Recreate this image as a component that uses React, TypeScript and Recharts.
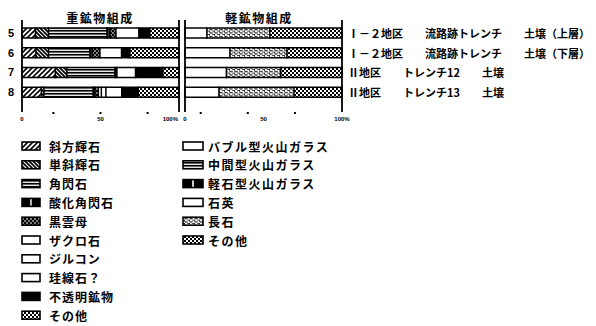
import React from "react";
import { BarChart, Bar, XAxis, YAxis, ReferenceLine } from "recharts";

// sample rows
const rows = ["5", "6", "7", "8"];
const siteLabels = [
  "Ⅰ－２地区　　流路跡トレンチ　　土壌（上層）",
  "Ⅰ－２地区　　流路跡トレンチ　　土壌（下層）",
  "Ⅱ地区　　トレンチ12　　土壌",
  "Ⅱ地区　　トレンチ13　　土壌",
];

// heavy minerals (%)
const orthopyroxene = [8.6, 8.9, 21.3, 12.4];
const clinopyroxene = [8.3, 8.0, 7.3, 1.6];
const hornblende = [37.3, 26.4, 30.6, 31.4];
const oxyHornblende = [1.9, 1.6, 1.3, 1.1];
const biotite = [3.8, 4.8, 0, 2.2];
const garnet = [14.6, 13.7, 11.8, 1.9];
const zircon = [0, 0, 0, 2.9];
const sillimanite = [0, 0, 0, 10.0];
const opaque = [7.0, 5.4, 17.5, 10.6];
const heavyOther = [18.5, 31.2, 10.2, 25.9];

// light minerals (%)
const bubbleGlass = [0, 0, 0, 0];
const intermediateGlass = [0, 0, 0, 0];
const pumiceGlass = [0, 0, 0, 0];
const quartz = [14.0, 28.7, 26.4, 21.7];
const feldspar = [40.1, 36.3, 34.7, 47.8];
const lightOther = [45.9, 35.0, 38.9, 30.5];

// axis ticks
const heavyDots = [20, 50, 80];
const lightDots = [10, 40, 70];
const labelTicks = [0, 50, 100];
const labelTexts = ["0", "50", "100%"];

const heavySeries = [
  { key: "opx", name: "斜方輝石", values: orthopyroxene, fill: "url(#pSlash)" },
  { key: "cpx", name: "単斜輝石", values: clinopyroxene, fill: "url(#pBack)" },
  { key: "hb", name: "角閃石", values: hornblende, fill: "url(#pHLines)" },
  { key: "oxhb", name: "酸化角閃石", values: oxyHornblende, fill: "url(#pVLine)" },
  { key: "bt", name: "黒雲母", values: biotite, fill: "url(#pDots)" },
  { key: "grt", name: "ザクロ石", values: garnet, fill: "#fff" },
  { key: "zrn", name: "ジルコン", values: zircon, fill: "#fff" },
  { key: "sil", name: "珪線石？", values: sillimanite, fill: "#fff" },
  { key: "opq", name: "不透明鉱物", values: opaque, fill: "#000" },
  { key: "oth", name: "その他", values: heavyOther, fill: "url(#pChecker)" },
];

const lightSeries = [
  { key: "bw", name: "バブル型火山ガラス", values: bubbleGlass, fill: "#fff" },
  { key: "iw", name: "中間型火山ガラス", values: intermediateGlass, fill: "url(#pHLines)" },
  { key: "pm", name: "軽石型火山ガラス", values: pumiceGlass, fill: "url(#pVLine)" },
  { key: "qz", name: "石英", values: quartz, fill: "#fff" },
  { key: "fs", name: "長石", values: feldspar, fill: "url(#pFeld)" },
  { key: "ot", name: "その他", values: lightOther, fill: "url(#pChecker)" },
];

const buildData = (series: typeof heavySeries) =>
  rows.map((row, i) => {
    const d: any = { row, site: siteLabels[i] };
    series.forEach((s) => (d[s.key] = s.values[i]));
    return d;
  });

const heavyData = buildData(heavySeries);
const lightData = buildData(lightSeries);

const jp = "'Noto Sans CJK JP', 'Noto Sans', sans-serif";

function PatternDefs() {
  return (
    <svg width={0} height={0} style={{ position: "absolute" }}>
      <defs>
        <pattern id="pSlash" width={5} height={5} patternUnits="userSpaceOnUse">
          <rect width={5} height={5} fill="#fff" />
          <path d="M-1,1 L1,-1 M0,5 L5,0 M4,6 L6,4" stroke="#000" strokeWidth={1.6} />
        </pattern>
        <pattern id="pBack" width={4} height={4} patternUnits="userSpaceOnUse">
          <rect width={4} height={4} fill="#fff" />
          <path d="M0,0 L4,4 M3,-1 L5,1 M-1,3 L1,5" stroke="#000" strokeWidth={1.7} />
        </pattern>
        <pattern id="pHLines" width={4} height={3} patternUnits="userSpaceOnUse">
          <rect width={4} height={3} fill="#000" />
          <rect y={1.6} width={4} height={1.3} fill="#fff" />
        </pattern>
        <pattern id="pVLine" width={1} height={1} patternContentUnits="objectBoundingBox">
          <rect width={1} height={1} fill="#000" />
          <rect x={0.46} width={0.08} height={1} fill="#fff" />
        </pattern>
        <pattern id="pDots" width={4} height={4} patternUnits="userSpaceOnUse">
          <rect width={4} height={4} fill="#000" />
          <rect x={0} y={0.5} width={2} height={1} fill="#fff" />
          <rect x={2} y={2.5} width={2} height={1} fill="#fff" />
        </pattern>
        <pattern id="pFeld" width={5} height={3.5} patternUnits="userSpaceOnUse">
          <rect width={5} height={3.5} fill="#fff" />
          <path d="M0,1 q1.25,1.4 2.5,0 M2.5,2.75 q1.25,1.4 2.5,0" stroke="#000" strokeWidth={1.1} fill="none" />
          <rect x={4} y={0.3} width={1} height={1} fill="#000" />
        </pattern>
        <pattern id="pChecker" width={4} height={4} patternUnits="userSpaceOnUse">
          <rect width={4} height={4} fill="#fff" />
          <rect width={2} height={2} fill="#000" />
          <rect x={2} y={2} width={2} height={2} fill="#000" />
        </pattern>
      </defs>
    </svg>
  );
}

const AxisTick = ({ x, y, payload, dots, endLast }: any) => {
  const v = payload.value;
  const li = labelTicks.indexOf(v);
  const anchor = endLast && v === 100 ? "end" : "middle";
  return (
    <g>
      {dots.includes(v) && <rect x={x - 1} y={y} width={2} height={2} fill="#000" />}
      {li >= 0 && (
        <text
          x={anchor === "end" ? x - 1 : x}
          y={y + 9}
          textAnchor={anchor}
          fontSize={6}
          fontWeight={700}
          fontFamily="'Liberation Sans', sans-serif"
          fill="#000"
        >
          {labelTexts[li]}
        </text>
      )}
    </g>
  );
};

const RowTick = ({ x, y, payload }: any) => (
  <text
    x={x - 11}
    y={y}
    textAnchor="middle"
    dominantBaseline="central"
    fontSize={11}
    fontWeight={700}
    fontFamily="'Liberation Sans', sans-serif"
    fill="#000"
  >
    {payload.value}
  </text>
);

const SiteTick = ({ x, y, payload }: any) => {
  const i = rows.indexOf(payload.value);
  return (
    <text x={x + 6} y={y} dominantBaseline="central" fontSize={11} fontWeight={700} fontFamily={jp} fill="#000">
      {siteLabels[i]}
    </text>
  );
};

function Panel({ data, series, dots, endLast, right }: any) {
  return (
    <BarChart
      width={right ? 416 : 190}
      height={128}
      data={data}
      layout="vertical"
      barSize={10}
      margin={{ top: 20, right: right ? 0 : 11, bottom: 0, left: right ? 5 : 0 }}
    >
      <XAxis
        type="number"
        domain={[0, 100]}
        ticks={[0, ...dots, 50, 100].filter((v, i, a) => a.indexOf(v) === i).sort((a, b) => a - b)}
        interval={0}
        axisLine={false}
        tickLine={false}
        tickSize={0}
        tickMargin={0}
        height={16}
        tick={<AxisTick dots={dots} endLast={endLast} />}
      />
      {right ? (
        <YAxis
          type="category"
          dataKey="row"
          orientation="right"
          width={254}
          interval={0}
          axisLine={false}
          tickLine={false}
          tickSize={0}
          tickMargin={0}
          padding={{ top: 3, bottom: 10 }}
          tick={<SiteTick />}
        />
      ) : (
        <YAxis
          type="category"
          dataKey="row"
          width={22}
          interval={0}
          axisLine={false}
          tickLine={false}
          tickSize={0}
          tickMargin={0}
          padding={{ top: 3, bottom: 10 }}
          tick={<RowTick />}
        />
      )}
      {series.map((s: any) => (
        <Bar
          key={s.key}
          dataKey={s.key}
          name={s.name}
          stackId="a"
          fill={s.fill}
          stroke="#000"
          strokeWidth={1.3}
          isAnimationActive={false}
        />
      ))}
      <ReferenceLine x={0} stroke="#000" strokeWidth={1.8} />
      <ReferenceLine x={100} stroke="#000" strokeWidth={1.8} />
    </BarChart>
  );
}

function LegendColumn({ series, x, iconW, textX, spacing }: any) {
  return (
    <g>
      {series.map((s: any, i: number) => {
        const cy = 146 + i * 18.8;
        return (
          <g key={s.key}>
            <rect x={x} y={cy - 4} width={iconW} height={8} fill={s.fill} stroke="#000" strokeWidth={1.6} />
            <text
              x={textX}
              y={cy}
              dominantBaseline="central"
              fontSize={12}
              fontWeight={700}
              letterSpacing={spacing}
              fontFamily={jp}
              fill="#000"
            >
              {s.name}
            </text>
          </g>
        );
      })}
    </g>
  );
}

export default function App() {
  return (
    <div style={{ position: "absolute", left: 0, top: 0, width: 596, height: 326, background: "#fff", overflow: "hidden" }}>
      <PatternDefs />
      <div style={{ position: "absolute", left: 0, top: 0 }}>
        <Panel data={heavyData} series={heavySeries} dots={heavyDots} endLast />
      </div>
      <div style={{ position: "absolute", left: 180, top: 0 }}>
        <Panel data={lightData} series={lightSeries} dots={lightDots} right />
      </div>
      <svg width={596} height={326} style={{ position: "absolute", left: 0, top: 0, pointerEvents: "none" }}>
        <text x={100} y={17} textAnchor="middle" dominantBaseline="central" fontSize={12} fontWeight={700} letterSpacing={1.5} fontFamily={jp}>
          重鉱物組成
        </text>
        <text x={259} y={17} textAnchor="middle" dominantBaseline="central" fontSize={12} fontWeight={700} letterSpacing={1.5} fontFamily={jp}>
          軽鉱物組成
        </text>
        <LegendColumn series={heavySeries} x={22} iconW={18} textX={49} spacing={1} />
        <LegendColumn series={lightSeries} x={183} iconW={20} textX={208} spacing={1.5} />
      </svg>
    </div>
  );
}
